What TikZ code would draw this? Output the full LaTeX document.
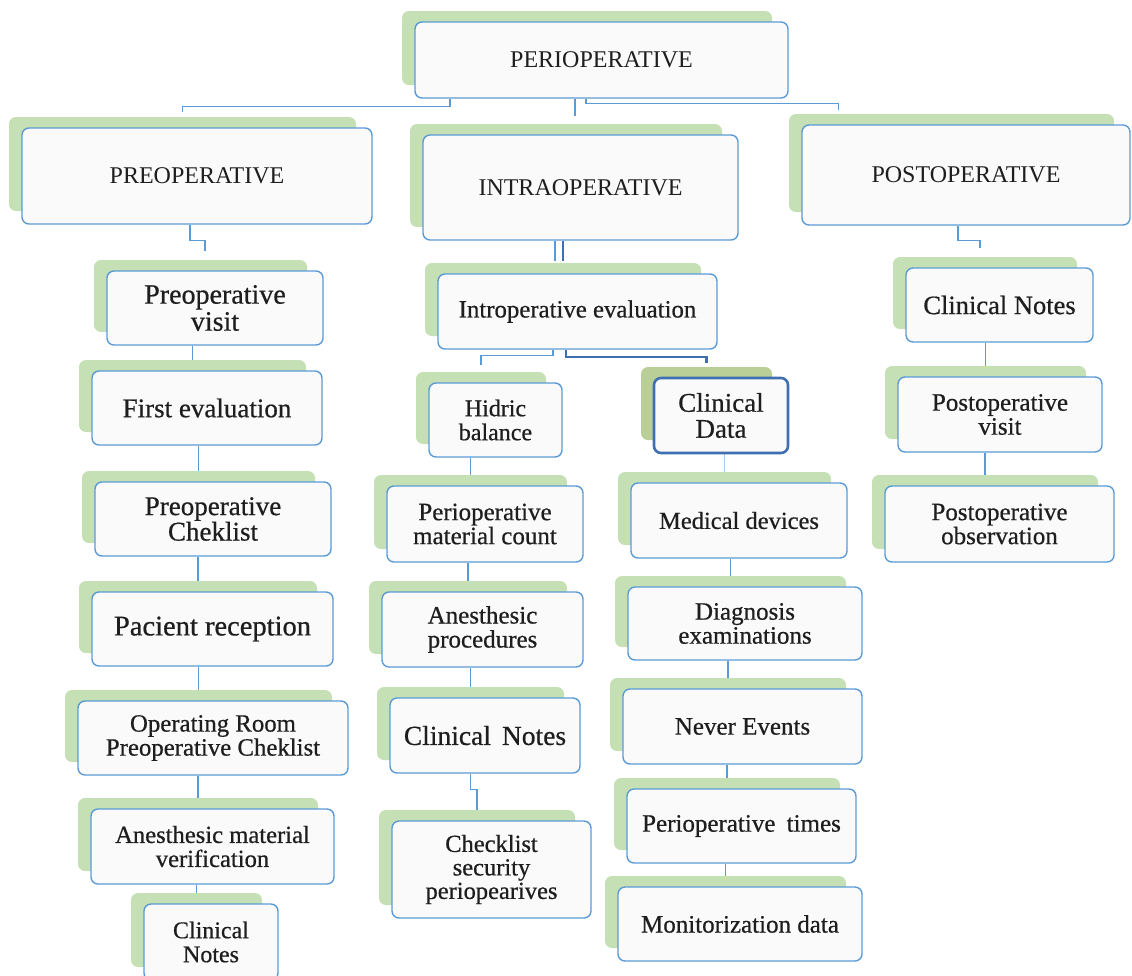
\documentclass[tikz,border=0pt]{standalone}
\usepackage{fontspec}
\setmainfont{Liberation Serif}
\newfontfamily\semib{Liberation Serif}[FakeBold=0.6]
\definecolor{bord}{HTML}{5B9BD5}
\definecolor{dbord}{HTML}{3F6FB0}
\definecolor{grn}{HTML}{C5E0B4}
\definecolor{grnB}{HTML}{BACF98}
\definecolor{boxfill}{HTML}{F9FAF9}
\definecolor{txt}{HTML}{1E1E1E}
\colorlet{grncur}{grn}
\newcommand\fsz[1]{\semib\fontsize{#1}{#1}\selectfont}
\newcommand\fsy[2]{\semib\fontsize{#1}{#2}\selectfont}
\newcommand\card[7][]{%
  \node[gbox, minimum width={(#5-#3-3)*1pt}, minimum height={(#6-#4-2)*1pt}] (#2-g) at ({(#3+#5)/2-14.5},{(#4+#6)/2-12}) {};
  \node[card, minimum width={(#5-#3)*1pt}, minimum height={(#6-#4)*1pt}, #1] (#2) at ({(#3+#5)/2},{(#4+#6)/2}) {#7};
}
\tikzset{
  card/.style={draw=bord, line width=1.4pt, fill=boxfill, rounded corners=7pt, inner sep=0pt, align=center, text=txt, font=\fsz{24}},
  gbox/.style={fill=grncur, rounded corners=7pt, inner sep=0pt},
  conn/.style={draw=bord, line width=1.3pt},
  dconn/.style={draw=dbord, line width=2.4pt},
  top/.style={font=\rmfamily\fontsize{24}{24}\selectfont},
}
\begin{document}
\begin{tikzpicture}[x=1pt,y=-1pt]
\useasboundingbox (0,0) rectangle (1132,975);
% top level
\card[top]{peri}{415}{22}{788}{98}{PERIOPERATIVE}
\card[top]{pre}{22}{128}{372}{224}{PREOPERATIVE}
\card[top]{intra}{423}{135}{738}{240}{INTRAOPERATIVE}
\card[top]{post}{802}{125}{1130}{225}{POSTOPERATIVE}
% left column
\card[font=\fsy{28}{27}]{pv}{107}{271}{323}{345}{Preoperative\\visit}
\card[font=\fsz{27}]{fe}{92}{371}{322}{445}{First evaluation}
\card[font=\fsy{27}{24}]{pc}{95}{482}{331}{556}{Preoperative\\Cheklist}
\card[font=\fsz{28.5}]{pr}{92}{592}{333}{666}{Pacient reception}
\card[font=\fsy{24.8}{24}]{or}{78}{701}{348}{775}{Operating Room\\Preoperative Cheklist}
\card[font=\fsy{24.6}{24}]{am}{91}{809}{334}{884}{Anesthesic material\\verification}
\card[font=\fsy{24}{24}]{cnl}{144}{904}{278}{980}{Clinical\\Notes}
% middle
\card[font=\fsz{24.8}]{ie}{438}{274}{717}{349}{Introperative evaluation}
\card[font=\fsy{24}{24}]{hb}{429}{383}{562}{457}{Hidric\\balance}
\colorlet{grncur}{grnB}
\card[draw=dbord, line width=2.6pt, font=\fsy{27}{26}]{cd}{654}{378}{788}{453}{Clinical\\Data}
\colorlet{grncur}{grn}
\card[font=\fsy{25}{24}]{pmc}{387}{486}{583}{562}{Perioperative\\material count}
\card[font=\fsy{25}{24}]{ap}{382}{592}{583}{667}{Anesthesic\\procedures}
\card[font=\fsz{27.5}]{cnm}{390}{698}{580}{773}{Clinical\hspace{0.15em} Notes}
\card[font=\fsy{24.5}{23.5}]{cs}{392}{821}{591}{918}{Checklist\\security\\periopearives}
% clinical data column
\card[font=\fsz{24.5}]{md}{631}{483}{847}{558}{Medical devices}
\card[font=\fsy{25}{24}]{dx}{628}{587}{862}{660}{Diagnosis\\examinations}
\card[font=\fsz{25}]{ne}{623}{689}{862}{764}{Never Events}
\card[font=\fsz{25}]{pt}{627}{789}{856}{863}{Perioperative\hspace{0.2em} times}
\card[font=\fsz{25}]{mo}{618}{887}{862}{961}{Monitorization data}
% right column
\card[font=\fsz{26.5}]{pcn}{906}{268}{1093}{342}{Clinical Notes}
\card[font=\fsy{25}{24}]{pvis}{898}{377}{1102}{452}{Postoperative\\visit}
\card[font=\fsy{25}{24}]{pobs}{885}{486}{1114}{562}{Postoperative\\observation}
% connectors top
\draw[conn] ([xshift=-151.5pt]peri.south) -- ++(0,8) -| ([yshift=5pt]pre-g.north);
\draw[conn] ([xshift=-26.5pt]peri.south) -- ([xshift=9pt,yshift=8pt]intra-g.north);
\draw[conn] ([xshift=-15.5pt]peri.south) -- ++(0,5) -| ([xshift=-113pt,yshift=4pt]post-g.north);
% preoperative
\draw[conn] ([xshift=-7pt]pre.south) -- ++(0,16) -| ([xshift=4.5pt,yshift=9pt]pv-g.north);
\draw[conn] (pv.south -| fe-g.north) -- (fe-g.north);
\draw[conn] (fe.south -| pc-g.north) -- (pc-g.north);
\draw[conn] (pc.south -| pr-g.north) -- (pr-g.north);
\draw[conn] (pr.south -| or-g.north) -- (or-g.north);
\draw[conn] (or.south -| am-g.north) -- (am-g.north);
\draw[conn] (am.south -| cnl-g.north) -- (cnl-g.north);
% intraoperative
\draw[conn] ([xshift=-8pt]ie-g.north |- intra.south) -- ([xshift=-8pt,yshift=2pt]ie-g.north);
\draw[dconn] (intra.south -| ie-g.north) -- ([yshift=2pt]ie-g.north);
\draw[conn] ([xshift=-24.5pt]ie.south) -- ++(0,6) -| ([yshift=7pt]hb-g.north);
\draw[dconn] ([xshift=-11.5pt]ie.south) -- ++(0,7) -| ([yshift=4pt]cd-g.north);
\draw[conn] (hb.south -| pmc-g.north) -- (pmc-g.north);
\draw[conn] (pmc.south -| ap-g.north) -- (ap-g.north);
\draw[conn] (ap.south -| cnm-g.north) -- (cnm-g.north);
\draw[conn] ([xshift=-6.5pt]cs-g.north |- cnm.south) -- ++(0,16) -| (cs-g.north);
\draw[conn, opacity=0.5] (cd.south -| md-g.north) -- (md-g.north);
\draw[conn] (md.south -| dx-g.north) -- (dx-g.north);
\draw[conn] (dx.south -| ne-g.north) -- (ne-g.north);
\draw[conn] (ne.south -| pt-g.north) -- (pt-g.north);
\draw[conn] (pt.south -| mo-g.north) -- (mo-g.north);
% postoperative
\draw[conn] ([xshift=-8pt]post.south) -- ++(0,15) -| ([xshift=-5pt,yshift=9pt]pcn-g.north);
\draw[conn] (pcn.south -| pvis-g.north) -- (pvis-g.north);
\draw[conn] (pvis.south -| pobs-g.north) -- (pobs-g.north);
\end{tikzpicture}
\end{document}
